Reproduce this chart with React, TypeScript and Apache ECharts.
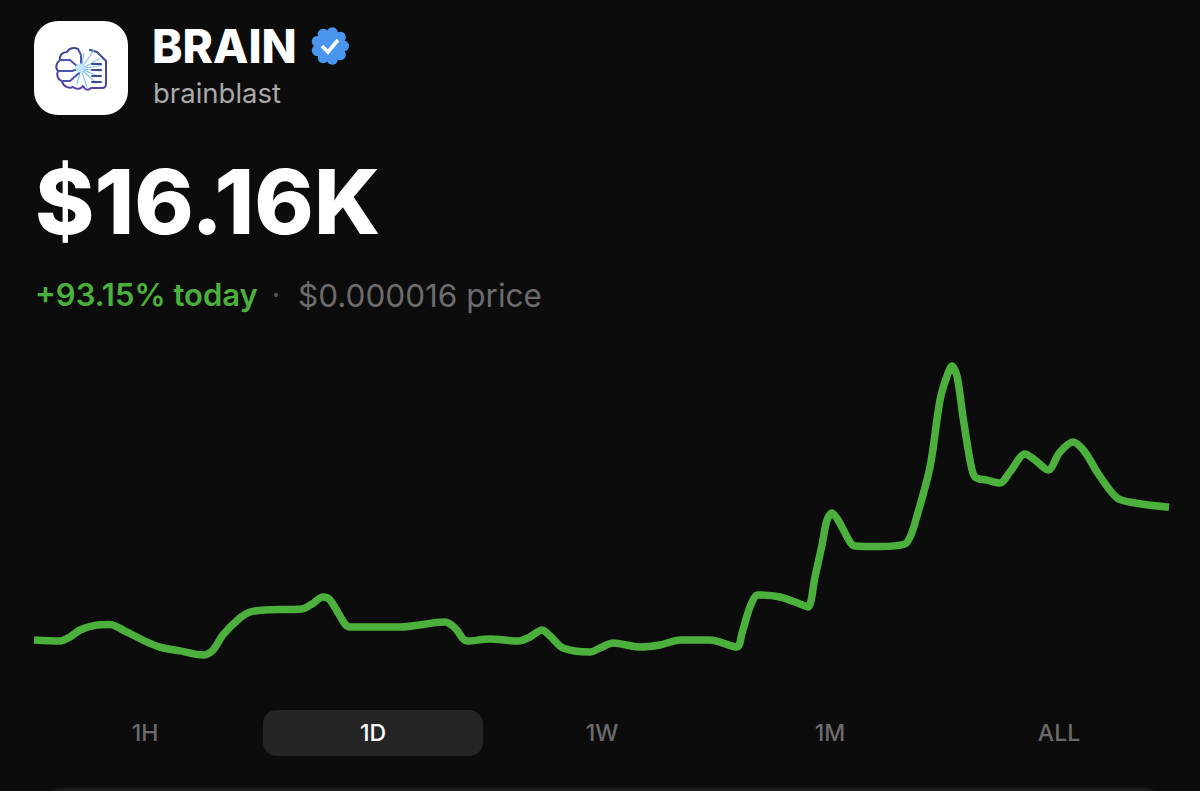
import React, { useEffect, useRef } from "react";
import * as echarts from "echarts";

const timeIndex = [0,26,36,46,61,76,91,111,126,146,169,179,189,206,216,231,268,278,289,296,311,316,366,411,421,433,456,484,496,508,516,529,556,566,579,606,626,646,676,703,708,716,724,746,766,774,781,788,793,798,804,816,821,846,871,876,881,896,906,913,918,923,929,936,941,953,966,976,991,1001,1014,1026,1039,1051,1063,1083,1101,1135];
const capK = [8.35,8.29,8.53,8.94,9.21,9.26,8.88,8.29,7.94,7.71,7.47,7.76,8.65,9.65,10.0,10.12,10.18,10.47,10.88,10.71,9.29,9.12,9.12,9.41,9.06,8.29,8.41,8.29,8.53,8.94,8.59,7.88,7.65,7.88,8.18,7.94,8.06,8.35,8.35,7.94,8.76,10.29,11.0,10.88,10.47,10.29,12.06,13.94,15.41,15.82,15.41,14.12,13.88,13.85,14.0,14.41,15.24,18.53,22.47,23.88,24.47,23.88,21.47,18.94,17.94,17.76,17.59,18.24,19.29,18.94,18.35,19.41,20.0,19.41,18.24,16.71,16.41,16.16];
const ranges = ["1H", "1D", "1W", "1M", "ALL"];
const rangeCentres = [145, 373, 602, 830, 1059];
const activeRange = "1D";

const FONT = "Inter, 'Noto Sans', sans-serif";
const BG = "#0c0c0c";
const GREEN = "#4cb03c";

const brainPath = "M24 4 C20 2 15 3 13 7 C8 7 5 11 6 15 C2 18 1 23 4 26 C2 30 4 35 8 36 C9 41 14 44 19 42 C23 45 27 44 29 41 C31 45 34 46 37 43 L48 43 C51 43 52 41 52 39 L52 16 L43 7 L36 5";
const brainBlue = "M24 4 L27 10 L27 18 M6 15 L16 15 L24 22 M4 26 L18 26 L24 24 M8 36 L16 36 L25 28";
const rays = "M27 24 L40 5 M27 24 L45 14 M27 24 L48 20 M27 24 L48 26 M27 24 L46 32 M27 24 L42 38 M27 24 L33 42 M27 24 L23 39 M27 24 L30 8";
const rows = "M38 19 L47 19 M38 25 L47 25 M38 31 L47 31 M38 37 L47 37";

echarts.graphic.registerShape("brainOutline", echarts.graphic.extendPath(brainPath, {}));
echarts.graphic.registerShape("brainBlue", echarts.graphic.extendPath(brainBlue, {}));
echarts.graphic.registerShape("brainRays", echarts.graphic.extendPath(rays, {}));
echarts.graphic.registerShape("brainRows", echarts.graphic.extendPath(rows, {}));

function text(x: number, y: number, t: string, size: number, weight: number, fill: string, align = "left", extra: any = {}) {
  return {
    type: "text", x, y,
    style: { text: t, fontFamily: FONT, fontSize: size, fontWeight: weight, fill, align, verticalAlign: "top", ...extra },
  };
}

const scallopAngles = [0, 40, 80, 120, 160, 200, 240, 280, 320];

export default function App() {
  const ref = useRef<HTMLDivElement>(null);
  useEffect(() => {
    const chart = echarts.init(ref.current!, null, { renderer: "svg" });
    const logoStroke = { fill: "none", lineWidth: 2, lineCap: "round", lineJoin: "round" };
    const logoGrad = new echarts.graphic.LinearGradient(0, 0, 0, 1, [
      { offset: 0, color: "#3c4a92" },
      { offset: 1, color: "#5a3fb0" },
    ]);
    chart.setOption({
      animation: false,
      backgroundColor: BG,
      grid: { left: 34, top: 340, width: 1135, height: 340 },
      xAxis: { type: "value", min: 0, max: 1135, show: false },
      yAxis: { type: "value", min: 6, max: 26, show: false },
      series: [{
        type: "line",
        data: timeIndex.map((t, i) => [t, capK[i]]),
        showSymbol: false,
        smooth: 0.3,
        lineStyle: { color: GREEN, width: 7.5, cap: "butt", join: "round" },
      }],
      graphic: { elements: [
        { type: "rect", shape: { x: 34, y: 21, width: 94, height: 94, r: 24 }, style: { fill: "#ffffff" } },
        { type: "brainOutline", x: 54, y: 45, style: { ...logoStroke, stroke: logoGrad } },
        { type: "brainRays", x: 54, y: 45, style: { ...logoStroke, lineWidth: 1.2, stroke: "#7fc4f2" } },
        { type: "brainBlue", x: 54, y: 45, style: { ...logoStroke, stroke: "#4a55b0" } },
        { type: "brainRows", x: 54, y: 45, style: { ...logoStroke, stroke: "#3d4a8f" } },
        { type: "circle", shape: { cx: 80, cy: 68, r: 4.5 }, style: { fill: "#bfe6fb" } },
        text(152, 23, "BRAIN", 46, 800, "#ffffff", "left", { letterSpacing: -0.4 }),
        ...scallopAngles.map((a) => ({
          type: "circle",
          shape: { cx: 330 + 13.5 * Math.cos((a * Math.PI) / 180), cy: 46 + 13.5 * Math.sin((a * Math.PI) / 180), r: 5.5 },
          style: { fill: "#4a96ef" },
        })),
        { type: "circle", shape: { cx: 330, cy: 46, r: 15 }, style: { fill: "#4a96ef" } },
        { type: "polyline", shape: { points: [[322, 46], [328, 52], [338, 40]] }, style: { fill: "none", stroke: "#ffffff", lineWidth: 3.6 } },
        text(153, 79, "brainblast", 27.5, 400, "#a9a9a9"),
        text(35, 156, "$16.16K", 90, 800, "#ffffff", "left", { letterSpacing: -3.8 }),
        text(35, 279, "+93.15% today", 31, 600, GREEN),
        text(276, 279, "·", 31, 400, "#555555", "center"),
        text(298, 279, "$0.000016 price", 31.5, 400, "#6c6c6c"),
        { type: "rect", shape: { x: 263, y: 710, width: 220, height: 46, r: 14 }, style: { fill: "#252525" } },
        ...ranges.map((r, i) => text(rangeCentres[i], 721, r, 23, 500, r === activeRange ? "#ffffff" : "#6b6b6b", "center")),
        { type: "rect", shape: { x: 48, y: 788, width: 1110, height: 20, r: 10 }, style: { fill: "#1c1c1c" } },
      ] },
    });
    return () => chart.dispose();
  }, []);
  return <div ref={ref} style={{ position: "fixed", left: 0, top: 0, width: 1200, height: 791 }} />;
}
